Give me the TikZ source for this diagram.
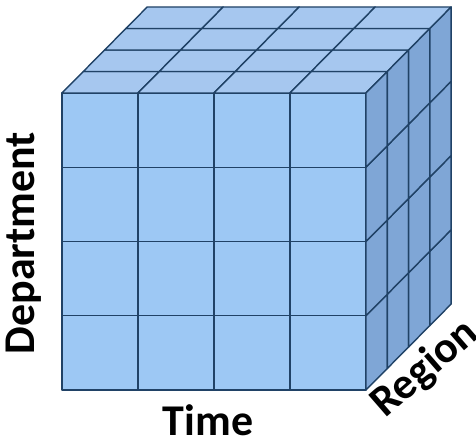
\documentclass[tikz,border=0pt]{standalone}
\usepackage{tikz}
\usetikzlibrary{positioning}
\usepackage{fontspec}
\setsansfont{Carlito}
\definecolor{CF}{RGB}{157,200,244}
\definecolor{CT}{RGB}{166,199,239}
\definecolor{CR}{RGB}{127,166,214}
\definecolor{CL}{RGB}{32,66,102}

\begin{document}
\begin{tikzpicture}[
  cell/.style={draw=CL, line width=0.8pt, line join=round},
  axis/.style={font=\sffamily\bfseries\fontsize{25}{25}\selectfont, text=black}
]
\useasboundingbox (0,0) rectangle (9.52,8.84);
\def\cw{1.52}
\def\ch{1.485}
\def\dx{0.426}
\def\dy{0.43}

\begin{scope}[shift={(1.24,1.04)}]
% Front face
\foreach \i in {0,...,3}
  \foreach \j in {0,...,3}
    \filldraw[cell, fill=CF] ({\i*\cw},{\j*\ch}) rectangle ++(\cw,\ch);
% Top face
\foreach \i in {0,...,3}
  \foreach \k in {0,...,3}
    \filldraw[cell, fill=CT] ({\i*\cw+\k*\dx},{4*\ch+\k*\dy})
      -- ++(\cw,0) -- ++(\dx,\dy) -- ++(-\cw,0) -- cycle;
% Right face
\foreach \j in {0,...,3}
  \foreach \k in {0,...,3}
    \filldraw[cell, fill=CR] ({4*\cw+\k*\dx},{\j*\ch+\k*\dy})
      -- ++(\dx,\dy) -- ++(0,\ch) -- ++(-\dx,-\dy) -- cycle;
\end{scope}

% Axis labels
\node[axis, rotate=90, anchor=base] (dept) at (0.70,3.98) {Department};
\node[axis, anchor=base] (time) at (4.16,0.12) {Time};
\node[axis, rotate=41] (region) at (8.50,1.46) {Region};
\end{tikzpicture}
\end{document}
